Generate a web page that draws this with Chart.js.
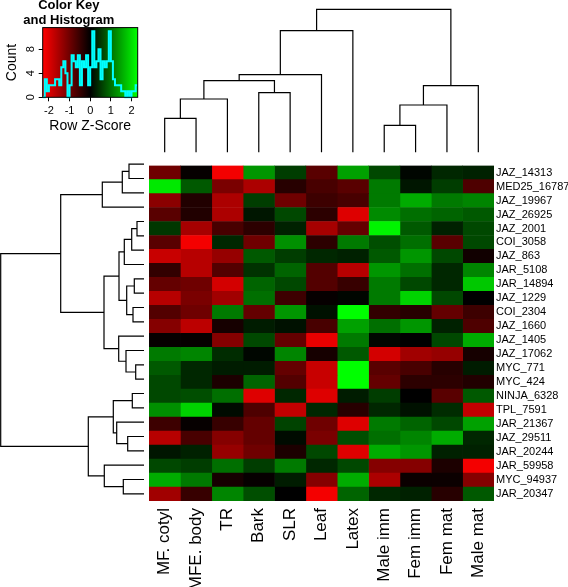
<!DOCTYPE html>
<html>
<head>
<meta charset="utf-8">
<title>Heatmap - row Z-score</title>
<script src="https://cdn.jsdelivr.net/npm/chart.js@4.4.1/dist/chart.umd.min.js"></script>
<style>
  html, body { margin: 0; padding: 0; background: #fff; }
  #wrap { position: relative; width: 568px; height: 587px; overflow: hidden; }
  canvas { position: absolute; }
  #keyChart { left: 0; top: 0; }
  #colTree { left: 149px; top: 0; }
  #rowTree { left: 0; top: 157px; }
  #heatChart { left: 149px; top: 157px; }
</style>
</head>
<body>
<div id="wrap">
  <canvas id="keyChart" width="145" height="135"></canvas>
  <canvas id="colTree" width="345" height="157"></canvas>
  <canvas id="rowTree" width="149" height="344"></canvas>
  <canvas id="heatChart" width="419" height="430"></canvas>
</div>
<script>
// columns (dendrogram order)
const tissues = ['MF. cotyl', 'MFE. body', 'TR', 'Bark', 'SLR', 'Leaf', 'Latex',
                 'Male imm', 'Fem imm', 'Fem mat', 'Male mat'];

// rows (dendrogram order, top to bottom)
const genes = ['JAZ_14313', 'MED25_16787', 'JAZ_19967', 'JAZ_26925', 'JAZ_2001', 'COI_3058',
               'JAZ_863', 'JAR_5108', 'JAR_14894', 'JAZ_1229', 'COI_2304', 'JAZ_1660',
               'JAZ_1405', 'JAZ_17062', 'MYC_771', 'MYC_424', 'NINJA_6328', 'TPL_7591',
               'JAR_21367', 'JAZ_29511', 'JAR_20244', 'JAR_59958', 'MYC_94937', 'JAR_20347'];

// row z-scores, one line per gene, one value per tissue
const zScores = [
  [-1.0, -0.05, -2.2, 1.35, 0.55, -0.8, 1.45, 0.65, 0.05, 0.35, 0.3],
  [2.1, 0.8, -1.1, -1.55, -0.35, -0.65, -0.8, 1.1, 0.2, 0.55, -0.7],
  [-1.25, -0.3, -1.55, 0.55, -1.0, -0.55, -0.65, 1.1, 1.55, 1.1, 1.2],
  [-0.8, -0.3, -1.55, 0.2, 0.65, -0.4, -2.0, 1.25, 1.0, 0.9, 0.8],
  [0.5, -1.5, -0.65, -0.4, 0.3, -1.5, -0.9, 2.2, 0.8, 0.3, 0.65],
  [-0.8, -2.2, 0.35, -1.0, 1.3, -0.4, 1.1, 0.7, 1.0, -0.8, 0.65],
  [-1.8, -1.65, -1.35, 0.8, 0.55, 0.35, 0.3, 0.8, 1.35, 0.65, -0.15],
  [-0.45, -1.65, -0.75, 0.45, 0.9, -0.75, -1.65, 1.35, 1.0, 0.35, 1.2],
  [-0.9, -1.0, -1.9, 0.9, 0.65, -0.75, -0.5, 1.1, 0.65, 0.35, 1.8],
  [-1.65, -1.1, -1.45, 1.0, -0.55, -0.05, 0.05, 1.1, 1.9, 0.65, 0.0],
  [-0.75, -1.0, 1.1, -0.9, 1.35, 0.15, 2.3, -0.45, -0.35, -0.9, -0.55],
  [-1.2, -1.7, -0.2, 0.25, 0.15, -0.65, 1.45, 1.0, 1.35, 0.3, -0.7],
  [-0.05, -0.05, -1.2, 0.65, -0.9, -2.1, 1.1, 0.05, 0.0, 0.65, 1.55],
  [1.1, 1.2, 0.4, 0.05, 1.2, -0.2, 0.8, -1.9, -1.45, -1.35, -0.2],
  [0.8, 0.35, 0.25, 0.25, -0.9, -1.8, 2.3, -0.8, -0.65, -0.35, 0.25],
  [0.65, 0.35, -0.25, 0.9, -0.75, -1.8, 2.3, -0.9, -0.4, -0.4, -0.3],
  [0.65, 0.7, 1.0, -2.0, 0.35, -2.0, 0.25, 0.55, 0.0, -0.8, 0.8],
  [1.3, 1.9, 0.1, -0.7, -1.75, 0.35, -0.35, 0.35, 0.15, 0.4, -1.75],
  [-0.55, -0.05, -0.5, -0.9, 0.6, -1.0, -2.0, 1.1, 0.9, 0.65, 1.45],
  [-1.65, -0.65, -1.2, -0.9, 0.1, -1.1, 0.7, 1.0, 1.2, 1.55, 0.35],
  [0.2, 0.3, -1.35, -1.0, -0.25, 0.65, -2.0, 1.55, 1.35, 0.3, 0.3],
  [0.65, 0.55, 1.0, 0.55, 1.1, 0.35, 0.65, -1.2, -1.2, -0.25, -2.2],
  [1.55, 1.1, -0.2, -0.05, 0.25, -1.2, 1.55, -1.55, -0.1, -0.1, -1.2],
  [-1.45, -0.5, 1.2, 0.7, 0.0, -2.2, 0.9, 0.35, 0.3, -0.35, 0.8]
];

// hclust style merges: [a, b, height], negative = leaf (1-based, display order), positive = earlier merge
const colMerges = [
  [-1, -2, 34], [1, -3, 53.3], [-4, -5, 59.6], [2, 3, 71.6], [4, -6, 77.6],
  [5, -7, 121.6], [-8, -9, 27], [7, -10, 47.3], [8, -11, 66.6], [6, 9, 143]
];
const rowMerges = [
  [-1, -2, 15], [1, -3, 21.7], [2, -4, 41.7], [-5, -6, 7], [4, -7, 12.3],
  [5, -8, 19.7], [-9, -10, 9.7], [-11, -12, 11], [7, 8, 17.3], [6, 9, 25],
  [-15, -16, 8.3], [-14, 11, 18], [-13, 12, 25.3], [10, 13, 40], [3, 14, 83.3],
  [-17, -18, 11.7], [-20, -21, 16.3], [-19, 17, 27.3], [16, 18, 30.7], [-23, -24, 20.7],
  [-22, 20, 39.7], [19, 21, 55.7], [15, 22, 143.3]
];

// colour key histogram
const keyRange = [-2.3, 2.3];
const keyTicks = [-2, -1, 0, 1, 2];
const countTicks = [0, 4, 8];
const histBreaks = [-2.3, -2.2, -2.1, -2.0, -1.9, -1.8, -1.7, -1.6, -1.5, -1.4, -1.3, -1.2,
                    -1.1, -1.0, -0.9, -0.8, -0.7, -0.6, -0.5, -0.4, -0.3, -0.2, -0.1, 0.0,
                    0.1, 0.2, 0.3, 0.4, 0.5, 0.6, 0.7, 0.8, 0.9, 1.0, 1.1, 1.2,
                    1.3, 1.4, 1.5, 1.6, 1.7, 1.8, 1.9, 2.0, 2.1, 2.2, 2.3];
const histCounts = [0, 3, 1, 2, 2, 2, 3, 3, 2, 5, 6, 4,
                    0, 2, 7, 6, 5, 7, 2, 6, 5, 7, 2, 5,
                    11, 5, 6, 8, 3, 6, 5, 6, 11, 6, 3, 2,
                    2, 2, 1, 1, 0, 1, 0, 1, 1, 2];

Chart.defaults.font.family = '"Liberation Sans", Arial, Helvetica, sans-serif';
Chart.defaults.color = '#000';

// red - black - green
function zColor(z) {
  const t = Math.max(-1, Math.min(1, z / keyRange[1]));
  return t < 0 ? 'rgb(' + Math.round(-t * 255) + ',0,0)' : 'rgb(0,' + Math.round(t * 255) + ',0)';
}

// one U shaped line per merge
function treeSegments(merges, horizontal) {
  const pos = [], hgt = [];
  const child = (k) => k < 0 ? [-k - 0.5, 0] : [pos[k - 1], hgt[k - 1]];
  return merges.map(([a, b, h], i) => {
    const [pa, ha] = child(a);
    const [pb, hb] = child(b);
    pos[i] = (pa + pb) / 2;
    hgt[i] = h;
    const pts = [[pa, ha], [pa, h], [pb, h], [pb, hb]];
    return {
      data: pts.map(([p, v]) => horizontal ? {x: p, y: v} : {x: v, y: p}),
      borderColor: '#000',
      borderWidth: 1.2,
      pointRadius: 0,
      fill: false,
      tension: 0,
      clip: false
    };
  });
}

const baseOptions = {
  animation: false,
  responsive: false,
  events: [],
  plugins: { legend: { display: false }, tooltip: { enabled: false } }
};

// Colour key
const keyPainter = {
  id: 'keyPainter',
  beforeDatasetsDraw(chart) {
    const {ctx, chartArea: a, scales: {x}} = chart;
    const x0 = x.getPixelForValue(keyRange[0]);
    const x1 = x.getPixelForValue(keyRange[1]);
    const g = ctx.createLinearGradient(x0, 0, x1, 0);
    g.addColorStop(0, zColor(keyRange[0]));
    g.addColorStop((0 - keyRange[0]) / (keyRange[1] - keyRange[0]), zColor(0));
    g.addColorStop(1, zColor(keyRange[1]));
    ctx.save();
    ctx.fillStyle = g;
    ctx.fillRect(a.left, a.top, a.right - a.left, a.bottom - a.top);
    ctx.restore();
  },
  afterDatasetsDraw(chart) {
    const {ctx, chartArea: a} = chart;
    ctx.save();
    ctx.strokeStyle = '#000';
    ctx.lineWidth = 1;
    ctx.strokeRect(a.left, a.top, a.right - a.left, a.bottom - a.top);
    ctx.restore();
  }
};

new Chart(document.getElementById('keyChart'), {
  type: 'line',
  data: {
    datasets: [{
      data: histBreaks.map((b, i) => ({x: b, y: histCounts[Math.min(i, histCounts.length - 1)]})),
      stepped: 'before',
      borderColor: '#00ffff',
      borderWidth: 2,
      pointRadius: 0,
      fill: false,
      clip: false
    }]
  },
  options: {
    ...baseOptions,
    layout: { padding: { left: 0, top: 0, right: 7.3, bottom: 0 } },
    plugins: {
      ...baseOptions.plugins,
      title: {
        display: true,
        text: ['Color Key', 'and Histogram'],
        font: { size: 13, weight: 'bold', lineHeight: 1.15 },
        padding: { top: -2, bottom: -0.3 }
      }
    },
    scales: {
      x: {
        type: 'linear',
        min: keyRange[0],
        max: keyRange[1],
        afterBuildTicks(s) { s.ticks = keyTicks.map(v => ({value: v})); },
        grid: { drawOnChartArea: false, drawTicks: true, tickLength: 4, color: '#000' },
        border: { display: false },
        ticks: { font: { size: 11 }, padding: 3 },
        title: { display: true, text: 'Row Z-Score', font: { size: 14 }, padding: { top: 0, bottom: 0 } },
        afterFit(s) { s.height = 37.7; }
      },
      y: {
        type: 'linear',
        min: 0,
        max: 11.6,
        afterBuildTicks(s) { s.ticks = countTicks.map(v => ({value: v})); },
        grid: { drawOnChartArea: false, drawTicks: true, tickLength: 4, color: '#000' },
        border: { display: false },
        ticks: { font: { size: 11 }, padding: 5, minRotation: 90, maxRotation: 90, crossAlign: 'center' },
        title: { display: true, text: 'Count', font: { size: 14 }, padding: { top: 4, bottom: 0 } },
        afterFit(s) { s.width = 42.7; }
      }
    }
  },
  plugins: [keyPainter]
});

// Column dendrogram
new Chart(document.getElementById('colTree'), {
  type: 'line',
  data: { datasets: treeSegments(colMerges, true) },
  options: {
    ...baseOptions,
    scales: {
      x: { type: 'linear', display: false, min: 0, max: tissues.length },
      y: { type: 'linear', display: false, min: -4.7, max: 152.3 }
    }
  }
});

// Row dendrogram
new Chart(document.getElementById('rowTree'), {
  type: 'line',
  data: { datasets: treeSegments(rowMerges, false) },
  options: {
    ...baseOptions,
    scales: {
      x: { type: 'linear', display: false, reverse: true, min: -5, max: 144 },
      y: { type: 'linear', display: false, reverse: true, min: 0, max: genes.length }
    }
  }
});

// Heatmap: one floating bar per cell
new Chart(document.getElementById('heatChart'), {
  type: 'bar',
  data: {
    labels: genes,
    datasets: tissues.map((t, j) => ({
      label: t,
      data: genes.map(() => [j, j + 1]),
      backgroundColor: zScores.map(row => zColor(row[j])),
      borderWidth: 0,
      barPercentage: 1,
      categoryPercentage: 1,
      grouped: false
    }))
  },
  options: {
    ...baseOptions,
    indexAxis: 'y',
    scales: {
      x: { type: 'linear', display: false, min: 0, max: tissues.length },
      y: {
        position: 'right',
        grid: { display: false, drawTicks: false },
        border: { display: false },
        ticks: { font: { size: 11 }, padding: 2, autoSkip: false },
        afterFit(s) { s.width = 74; }
      },
      tissueAxis: {
        type: 'category',
        labels: tissues,
        position: 'bottom',
        offset: true,
        grid: { display: false, drawTicks: false },
        border: { display: false },
        ticks: { font: { size: 17 }, padding: 7, minRotation: 90, maxRotation: 90, autoSkip: false },
        afterFit(s) { s.height = 86; }
      }
    }
  }
});
</script>
</body>
</html>
